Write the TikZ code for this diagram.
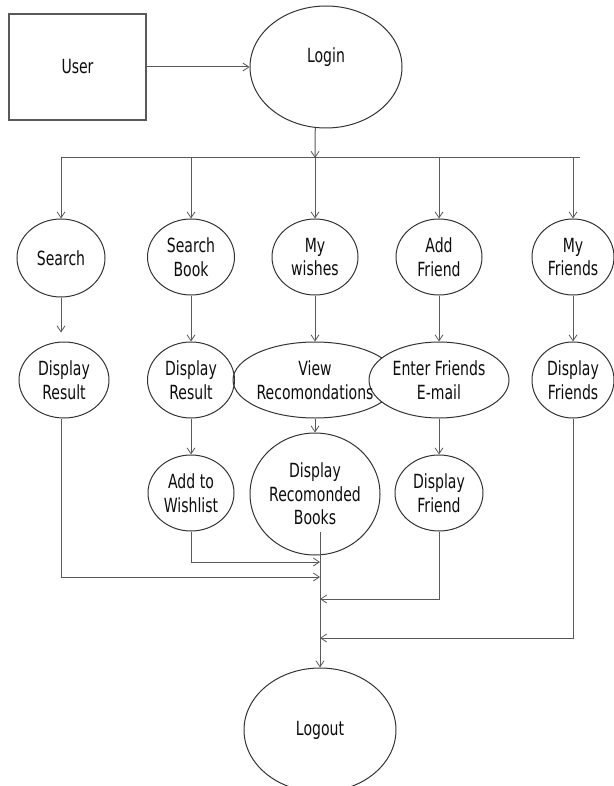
\documentclass[tikz,border=0pt]{standalone}
\usepackage{fontspec}
\setmainfont[FakeStretch=0.72]{DejaVu Sans}
\usetikzlibrary{shapes.geometric,arrows.meta}
\begin{document}
\begin{tikzpicture}[x=1pt,y=1pt,
  txt/.style={font=\fontsize{19.5}{23.5}\selectfont, text=black!95},
  proc/.style={ellipse, draw=black!80, line width=1pt, align=center, inner sep=0pt, txt},
  conn/.style={draw=black!65, line width=1pt},
  arr/.style={conn, -{Straight Barb[length=6pt,width=8pt,line width=0.8pt]}}]
\useasboundingbox (0,0) rectangle (613,-786);
% nodes
\node[draw=black!65, line width=1.4pt, minimum width=137pt, minimum height=106pt, inner sep=0pt, txt] (user) at (77.5,-67) {User};
\node[proc, minimum width=152pt, minimum height=122pt] (login) at (326,-67) {};
\node[txt] (logintxt) at (326,-57) {Login};
\node[proc, minimum width=88pt, minimum height=78pt] (search) at (61,-258) {Search};
\node[proc, minimum width=87pt, minimum height=76pt] (sbook) at (191,-257) {Search\\Book};
\node[proc, minimum width=86pt, minimum height=76pt] (mywish) at (315,-257) {My\\wishes};
\node[proc, minimum width=86pt, minimum height=76pt] (addf) at (439,-257) {Add\\Friend};
\node[proc, minimum width=82pt, minimum height=76pt] (myfr) at (573,-257) {My\\Friends};
\node[proc, minimum width=90pt, minimum height=76pt] (dr1) at (64,-380) {Display\\Result};
\node[proc, minimum width=87pt, minimum height=76pt] (dr2) at (191,-380) {Display\\Result};
\node[proc, minimum width=164pt, minimum height=76pt] (view) at (315,-380) {};
\node[proc, fill=white, minimum width=140pt, minimum height=76pt] (enter) at (439,-380) {Enter Friends\\E-mail};
\node[txt, align=center] (viewtxt) at (315,-380) {View\\Recomondations};
\node[proc, minimum width=82pt, minimum height=76pt] (dfs) at (573,-380) {Display\\Friends};
\node[proc, minimum width=86pt, minimum height=76pt] (aw) at (191,-493) {Add to\\Wishlist};
\node[proc, minimum width=130pt, minimum height=122pt] (drb) at (315,-494) {Display\\Recomonded\\Books};
\node[proc, minimum width=88pt, minimum height=76pt] (df) at (439,-493) {Display\\Friend};
\node[proc, minimum width=152pt, minimum height=124pt] (logout) at (320,-730) {Logout};
% bus coordinates
\coordinate (b1) at (61,-158);
\coordinate (b2) at (191,-158);
\coordinate (b3) at (315,-158);
\coordinate (b4) at (439,-158);
\coordinate (b5) at (573,-158);
\coordinate (bR) at (580,-158);
\coordinate (j1) at (320,-562);
\coordinate (j2) at (320,-577);
\coordinate (j3) at (320,-599);
\coordinate (j4) at (320,-638);
\coordinate (m0) at (320,-532);
% connectors
\draw[arr] (user) -- (login);
\draw[arr] (login.-100) -- (b3);
\draw[conn] (b1) -- (bR);
\draw[arr] (b1) -- (search);
\draw[arr] (b2) -- (sbook);
\draw[arr] (b3) -- (mywish);
\draw[arr] (b4) -- (addf);
\draw[arr] (b5) -- (myfr);
\draw[arr] (search.south) -- ([yshift=9pt]search.south |- dr1.north);
\draw[arr] (sbook) -- (dr2);
\draw[arr] (mywish) -- (view);
\draw[arr] (addf) -- (enter);
\draw[arr] (myfr) -- (dfs);
\draw[arr] (dr2) -- (aw);
\draw[arr] (view) -- (drb);
\draw[arr] (enter) -- (df);
\draw[arr] (aw.south) |- (j1);
\draw[arr] (search.south |- dr1.south) |- (j2);
\draw[arr] (df.south) |- (j3);
\draw[arr] (dfs.south) |- (j4);
\draw[arr] (m0) -- (logout.north);
\end{tikzpicture}
\end{document}
